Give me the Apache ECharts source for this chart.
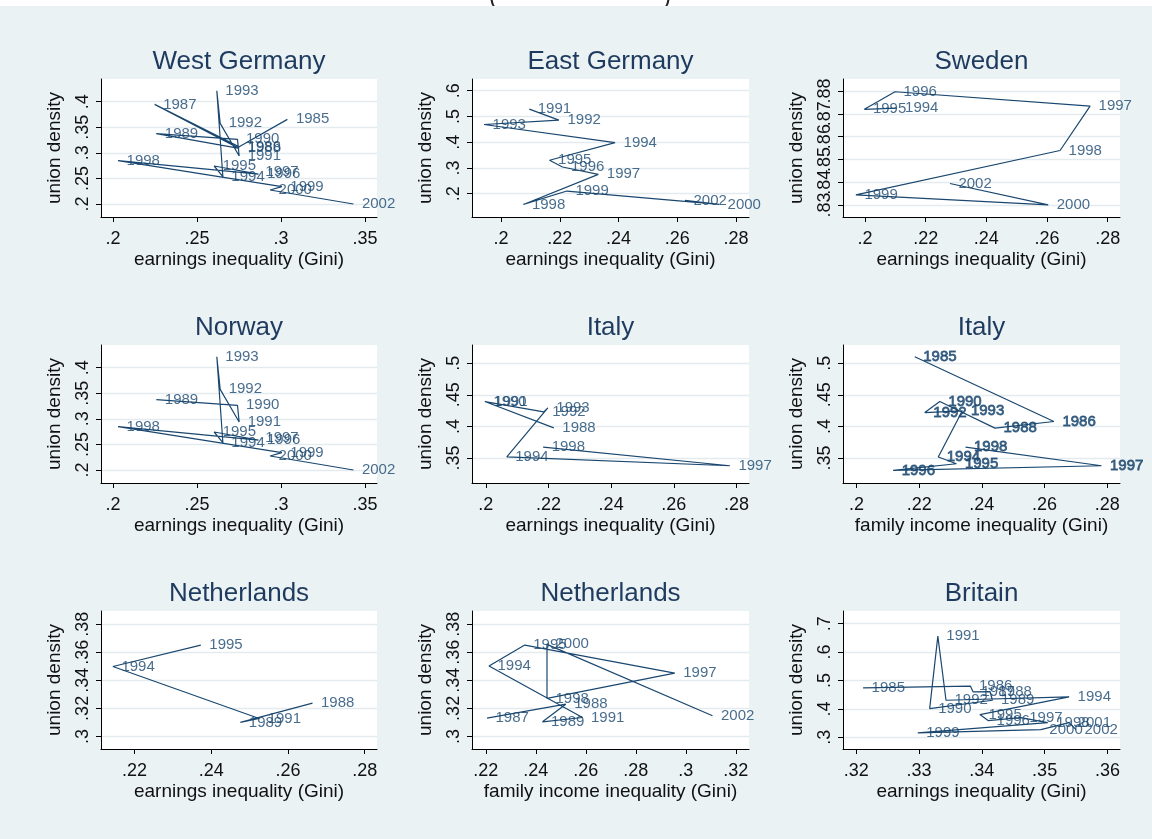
<!DOCTYPE html>
<html><head><meta charset="utf-8">
<script src="https://cdn.jsdelivr.net/npm/echarts@6/dist/echarts.min.js"></script>
<style>html,body{margin:0;padding:0;background:#fff}#c{width:1152px;height:839px}</style>
</head><body><div id="c"></div>
<script>
// ---- data ----
const wgYears = [1985,1986,1987,1988,1989,1990,1991,1992,1993,1994,1995,1996,1997,1998,1999,2000,2002];
const wgGini  = [0.3038,0.2751,0.2248,0.2751,0.2258,0.2741,0.2751,0.2638,0.2618,0.2654,0.2602,0.2866,0.2856,0.2030,0.3005,0.2935,0.3431];
const wgUnion = [0.3655,0.3121,0.3948,0.3088,0.3375,0.3264,0.2938,0.3577,0.4215,0.2534,0.2743,0.2586,0.2619,0.2847,0.2339,0.2274,0.2000];

const egYears = [1991,1992,1993,1994,1995,1996,1997,1998,1999,2000,2002];
const egGini  = [0.2096,0.2197,0.1942,0.2388,0.2165,0.2209,0.2331,0.2076,0.2224,0.2742,0.2626];
const egUnion = [0.5286,0.4857,0.4688,0.3987,0.3299,0.3039,0.2753,0.1584,0.2104,0.1584,0.1740];

const seYears = [1994,1995,1996,1997,1998,1999,2000,2002];
const seGini  = [0.2104,0.1998,0.2099,0.2742,0.2643,0.1970,0.2604,0.2280];
const seUnion = [0.8725,0.8720,0.8797,0.8734,0.8539,0.8344,0.8300,0.8394];

const noYears = [1989,1990,1991,1992,1993,1994,1995,1996,1997,1998,1999,2000,2002];
const noGini  = [0.2258,0.2741,0.2751,0.2638,0.2618,0.2654,0.2602,0.2866,0.2856,0.2030,0.3005,0.2935,0.3431];
const noUnion = [0.3375,0.3264,0.2938,0.3577,0.4215,0.2534,0.2743,0.2586,0.2619,0.2847,0.2339,0.2274,0.2000];

const itYears = [1988,1990,1991,1992,1993,1994,1997,1998];
const itGini  = [0.2217,0.1997,0.2000,0.2185,0.2198,0.2067,0.2779,0.2183];
const itUnion = [0.3978,0.4394,0.4385,0.4231,0.4294,0.3520,0.3378,0.3674];

const itfYears = [1985,1986,1988,1990,1992,1993,1994,1995,1996,1997,1998];
const itfGini  = [0.2186,0.2630,0.2442,0.2266,0.2218,0.2338,0.2261,0.2319,0.2117,0.2782,0.2348];
const itfUnion = [0.5104,0.4078,0.3974,0.4394,0.4220,0.4247,0.3516,0.3410,0.3304,0.3378,0.3674];

const nlYears = [1988,1989,1991,1994,1995];
const nlGini  = [0.2664,0.2476,0.2525,0.2144,0.2373];
const nlUnion = [0.3237,0.3100,0.3128,0.3499,0.3652];

const nlfYears = [1987,1988,1989,1991,1994,1995,1997,1998,2000,2002];
const nlfGini  = [0.2205,0.2520,0.2427,0.2587,0.2213,0.2356,0.2956,0.2445,0.2445,0.3107];
const nlfUnion = [0.3130,0.3230,0.3104,0.3135,0.3503,0.3652,0.3451,0.3271,0.3657,0.3147];

const brYears = [1985,1986,1987,1988,1989,1990,1991,1992,1994,1995,1996,1997,1998,1999,2000,2001,2002];
const brGini  = [0.3211,0.3382,0.3386,0.3413,0.3417,0.3317,0.3330,0.3343,0.3539,0.3397,0.3410,0.3462,0.3505,0.3298,0.3494,0.3539,0.3550];
const brUnion = [0.4742,0.4799,0.4601,0.4612,0.4305,0.4012,0.6563,0.4305,0.4425,0.3800,0.3589,0.3695,0.3519,0.3155,0.3272,0.3519,0.3272];

// tick labels
const ticksX_wg = [0.2,0.25,0.3,0.35];
const ticksY_wg = [0.2,0.25,0.3,0.35,0.4];
const ticksX_20_28 = [0.2,0.22,0.24,0.26,0.28];
const ticksY_eg = [0.2,0.3,0.4,0.5,0.6];
const ticksY_se = [0.83,0.84,0.85,0.86,0.87,0.88];
const ticksY_it = [0.35,0.4,0.45,0.5];
const ticksX_nl = [0.22,0.24,0.26,0.28];
const ticksX_nlf = [0.22,0.24,0.26,0.28,0.3,0.32];
const ticksY_nl = [0.3,0.32,0.34,0.36,0.38];
const ticksX_br = [0.32,0.33,0.34,0.35,0.36];
const ticksY_br = [0.3,0.4,0.5,0.6,0.7];

const EARN = 'earnings inequality (Gini)';
const FAM = 'family income inequality (Gini)';

const panels = [
  {title:'West Germany', xName:EARN, yrs:wgYears, xs:wgGini, ys:wgUnion, xt:ticksX_wg, yt:ticksY_wg, xr:[0.19286,0.35714], yr:[0.1746,0.4444]},
  {title:'East Germany', xName:EARN, yrs:egYears, xs:egGini, ys:egUnion, xt:ticksX_20_28, yt:ticksY_eg, xr:[0.1901,0.2844], yr:[0.1096,0.6456]},
  {title:'Sweden', xName:EARN, yrs:seYears, xs:seGini, ys:seUnion, xt:ticksX_20_28, yt:ticksY_se, xr:[0.19275,0.28406], yr:[0.82469,0.88531], crowded:true},
  {title:'Norway', xName:EARN, yrs:noYears, xs:noGini, ys:noUnion, xt:ticksX_wg, yt:ticksY_wg, xr:[0.19286,0.35714], yr:[0.1746,0.4444]},
  {title:'Italy', xName:EARN, yrs:itYears, xs:itGini, ys:itUnion, xt:ticksX_20_28, yt:ticksY_it, xr:[0.1956,0.2840], yr:[0.3105,0.5289]},
  {title:'Italy', xName:FAM, yrs:itfYears, xs:itfGini, ys:itfUnion, xt:ticksX_20_28, yt:ticksY_it, xr:[0.1957,0.2841], yr:[0.3105,0.5289], bold:true},
  {title:'Netherlands', xName:EARN, yrs:nlYears, xs:nlGini, ys:nlUnion, xt:ticksX_nl, yt:ticksY_nl, xr:[0.2113,0.2832], yr:[0.2910,0.3895]},
  {title:'Netherlands', xName:FAM, yrs:nlfYears, xs:nlfGini, ys:nlfUnion, xt:ticksX_nlf, yt:ticksY_nl, xr:[0.2145,0.3253], yr:[0.2910,0.3895]},
  {title:'Britain', xName:EARN, yrs:brYears, xs:brGini, ys:brUnion, xt:ticksX_br, yt:ticksY_br, xr:[0.3179,0.3620], yr:[0.2590,0.7445]}
];

// ---- layout ----
const FF = '"Liberation Sans", Arial, Helvetica, sans-serif';
const colLeft = [101, 472, 843];
const colW = [276, 277, 277];
const rowTop = [79, 345, 611];
const rowH = 138;
const NAVY = '#1a476f';
const TITLE = '#1f3a5f';

function fmt(v){
  let s = String(+(+v).toFixed(4));
  return s.replace(/^0\./,'.').replace(/^-0\./,'-.');
}
const yLabelStyle = {formatter:fmt, fontSize:18, color:'#111', fontFamily:FF, margin:9, rotate:90,
  showMinLabel:true, showMaxLabel:true, hideOverlap:false};

const grids = [], xAxes = [], yAxes = [], series = [], graphics = [];
panels.forEach((p,i)=>{
  const c = i % 3, r = Math.floor(i/3);
  grids.push({left:colLeft[c], top:rowTop[r], width:colW[c], height:rowH, show:true, backgroundColor:'#ffffff', borderWidth:0});
  xAxes.push({
    type:'value', gridIndex:i, min:p.xr[0], max:p.xr[1],
    name:p.xName, nameLocation:'middle', nameGap:33,
    nameTextStyle:{fontSize:19, color:'#111', fontFamily:FF},
    axisLine:{show:true, onZero:false, lineStyle:{color:'#000', width:1}},
    axisTick:{show:true, length:5, customValues:p.xt, lineStyle:{color:'#000', width:1}},
    axisLabel:{customValues:p.xt, formatter:fmt, fontSize:18, color:'#111', fontFamily:FF, margin:13,
      showMinLabel:true, showMaxLabel:true, hideOverlap:false},
    splitLine:{show:false}
  });
  const yIdx = yAxes.length;
  yAxes.push({
    type:'value', gridIndex:i, min:p.yr[0], max:p.yr[1], position:'left',
    name:'union density', nameLocation:'middle', nameGap:37, nameRotate:90,
    nameTextStyle:{fontSize:19, color:'#111', fontFamily:FF},
    axisLine:{show:true, onZero:false, lineStyle:{color:'#000', width:1}},
    axisTick:{show:true, length:5, customValues:p.yt, lineStyle:{color:'#000', width:1}},
    axisLabel:Object.assign({customValues:p.yt, show:!p.crowded}, yLabelStyle),
    splitLine:{show:true, lineStyle:{color:'#e3ebee', width:1.3}}
  });
  if (p.crowded) {
    // overlapping tick labels (as in the reference): one label-only axis per tick so none get dropped
    p.yt.forEach(v=>{
      yAxes.push({
        type:'value', gridIndex:i, min:p.yr[0], max:p.yr[1], position:'left', offset:0,
        axisLine:{show:false, onZero:false}, axisTick:{show:false}, splitLine:{show:false},
        axisLabel:Object.assign({customValues:[v], show:true}, yLabelStyle)
      });
    });
  }
  series.push({
    type:'line', xAxisIndex:i, yAxisIndex:yIdx,
    data:p.xs.map((v,k)=>[v,p.ys[k]]),
    symbol:'none', showSymbol:false, clip:false, silent:true, animation:false,
    lineStyle:{color:NAVY, width:1.2}
  });
  series.push({
    type:'scatter', xAxisIndex:i, yAxisIndex:yIdx,
    data:p.xs.map((v,k)=>({value:[v,p.ys[k]], name:String(p.yrs[k])})),
    symbolSize:1, itemStyle:{color:'rgba(0,0,0,0)'}, clip:false, silent:true, animation:false,
    label:{show:true, position:'right', distance:8, formatter:'{b}', color:NAVY, fontSize:15, fontFamily:FF,
      textBorderColor: p.bold ? NAVY : 'transparent', textBorderWidth: p.bold ? 0.8 : 0}
  });
  graphics.push({type:'text', x:colLeft[c]+colW[c]/2, y:rowTop[r]-17.5, silent:true,
    style:{text:p.title, font:'26px '+FF, fill:TITLE, align:'center', verticalAlign:'middle', textAlign:'center', textVerticalAlign:'middle'}});
});

// white strip at the top of the page crop with the cut-off parentheses of a caption above
graphics.push({type:'rect', shape:{x:0,y:0,width:1152,height:6}, style:{fill:'#ffffff'}, silent:true});
graphics.push({type:'text', x:493, y:9, silent:true, style:{text:'(', font:'24px '+FF, fill:'#222', align:'center', verticalAlign:'bottom'}});
graphics.push({type:'text', x:667, y:9, silent:true, style:{text:')', font:'24px '+FF, fill:'#222', align:'center', verticalAlign:'bottom'}});
graphics.push({type:'rect', shape:{x:0,y:6,width:1152,height:20}, style:{fill:'#eaf2f3'}, silent:true});

const chart = echarts.init(document.getElementById('c'), null, {renderer:'canvas'});
chart.setOption({
  backgroundColor:'#eaf2f3',
  animation:false,
  grid:grids, xAxis:xAxes, yAxis:yAxes, series:series,
  graphic:graphics
});
</script></body></html>
